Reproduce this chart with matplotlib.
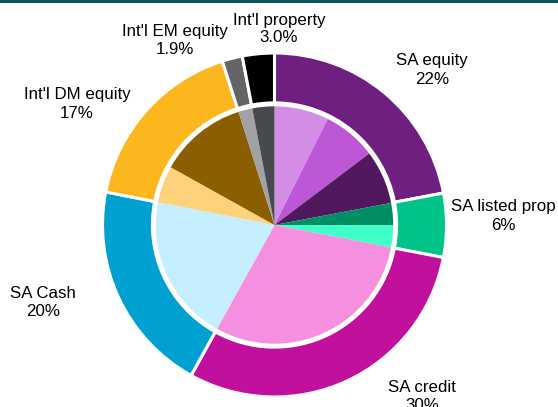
import matplotlib
matplotlib.use("Agg")
import matplotlib.pyplot as plt

plt.rcParams['font.family'] = ['Liberation Sans', 'DejaVu Sans']

# Outer ring (asset classes)
outer_labels = ["SA equity", "SA listed prop", "SA credit", "SA Cash",
                "Int'l DM equity", "Int'l EM equity", "Int'l property"]
outer_values = [22, 6, 30, 20, 17, 1.9, 3.0]
outer_text = ["22%", "6%", "30%", "20%", "17%", "1.9%", "3.0%"]
outer_colors = ["#6F1F80", "#00C389", "#C1109E", "#00A0D0",
                "#FDB71E", "#636466", "#000000"]

# Inner pie (sub-allocations)
inner_values = [7.4, 7.3, 7.3, 3.0, 3.0, 30, 20, 5, 12, 1.9, 3.0]
inner_colors = ["#D38DE4", "#BE57D6", "#52185E", "#008F65", "#40FFC8",
                "#F590E0", "#C5EFFF", "#FED27B", "#8B5E00", "#A0A2A5", "#464A4E"]

W, H = 558, 407
cx, cy, R = 274.5, 225.0, 172.0

fig = plt.figure(figsize=(W / 100, H / 100), dpi=100)
ax = fig.add_axes([0, 0, 1, 1])
ax.axis('off')

ax.pie(inner_values, radius=0.69, colors=inner_colors, startangle=90,
       counterclock=False, wedgeprops=dict(linewidth=0))
ax.pie(outer_values, radius=1.0, colors=outer_colors, startangle=90,
       counterclock=False,
       wedgeprops=dict(width=0.29, edgecolor='white', linewidth=2.2))
ax.set_aspect('auto')
ax.set_xlim(-cx / R, (W - cx) / R)
ax.set_ylim(-(H - cy) / R, cy / R)

# label positions in pixel space of the reference
label_px = [(432, 70), (503, 216), (422, 396), (43, 303),
            (77, 104), (175, 40), (279, 29)]
for lab, txt, (px, py) in zip(outer_labels, outer_text, label_px):
    ax.text((px - cx) / R, (cy - py) / R, f"{lab}\n{txt}", ha='center',
            va='center', fontsize=12.2, color='#000000', linespacing=1.25)

# top border strip
fig.add_artist(plt.Rectangle((0, 1 - 2.5 / H), 1, 2.5 / H,
                             transform=fig.transFigure, color='#0B5669',
                             linewidth=0))

fig.savefig("out.png", dpi=100)
